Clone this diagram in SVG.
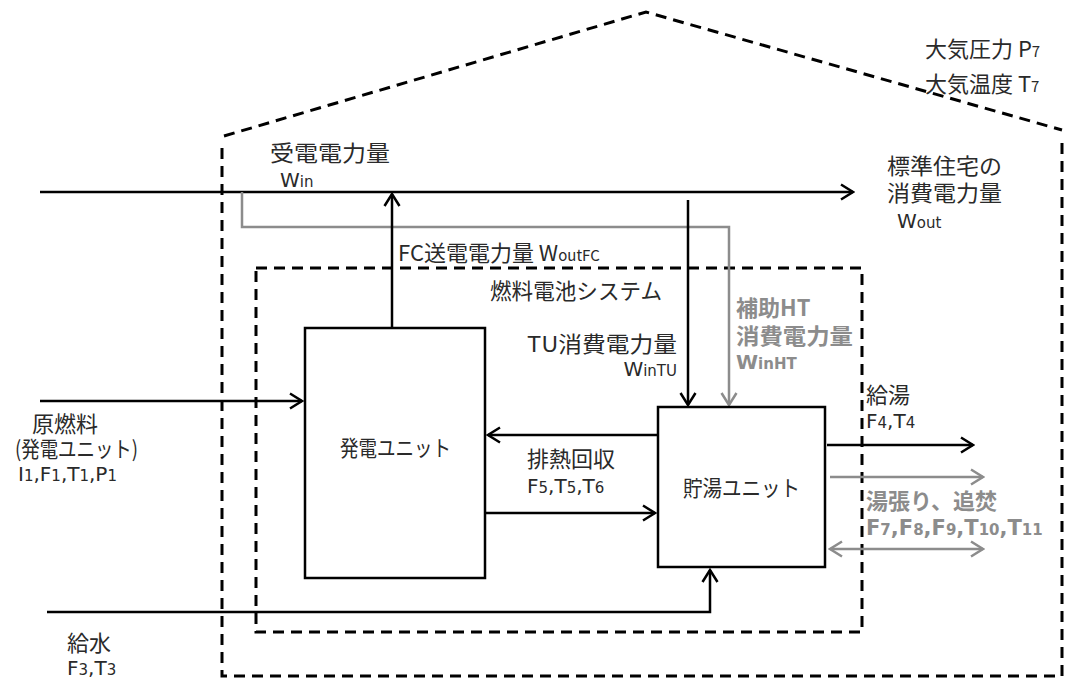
<svg xmlns="http://www.w3.org/2000/svg" width="1070" height="680" viewBox="0 0 1070 680">
<defs>
<marker id="ab" markerWidth="16" markerHeight="18" refX="14" refY="9" orient="auto" markerUnits="userSpaceOnUse"><path d="M2,1.5 L14,9 L2,16.5" fill="none" stroke="#000" stroke-width="2.5"/></marker>
<marker id="ag" markerWidth="16" markerHeight="18" refX="14" refY="9" orient="auto" markerUnits="userSpaceOnUse"><path d="M2,1.5 L14,9 L2,16.5" fill="none" stroke="#8c8c8c" stroke-width="2.5"/></marker>
<marker id="agr" markerWidth="16" markerHeight="18" refX="2" refY="9" orient="auto" markerUnits="userSpaceOnUse"><path d="M14,1.5 L2,9 L14,16.5" fill="none" stroke="#8c8c8c" stroke-width="2.5"/></marker>
</defs>
<style>
.dash{fill:none;stroke:#000;stroke-width:3;stroke-dasharray:11,7}
.box{fill:#fff;stroke:#000;stroke-width:2.5}
.ln{fill:none;stroke:#000;stroke-width:2.5}
.gl{fill:none;stroke:#8c8c8c;stroke-width:2.5}
text{font-family:"Noto Sans CJK JP","Liberation Sans",sans-serif;font-size:22px;fill:#2a2a2a}
.lt{font-family:"DejaVu Sans","Liberation Sans",sans-serif;font-size:20px}
.g{fill:#8c8c8c;font-weight:bold}
.s{font-size:15px}
</style>
<rect width="1070" height="680" fill="#fff"/>
<g id="house">
<path class="dash" d="M224,136 L646,12 L1062,130"/>
<path class="dash" d="M222,148 L222,676 L1062,676 L1062,138"/>
</g>
<g id="fcsystem">
<path class="dash" d="M256,268 L862,268 L862,632 L256,632 Z"/>
<text x="490" y="299" textLength="172" lengthAdjust="spacingAndGlyphs">燃料電池システム</text>
</g>
<g id="connectors">
<line class="ln" x1="40" y1="192" x2="853" y2="192" marker-end="url(#ab)"/>
<path class="gl" d="M242,192 L242,227 L729,227 L729,405" marker-end="url(#ag)"/>
<line class="ln" x1="392" y1="327" x2="392" y2="194" marker-end="url(#ab)"/>
<line class="ln" x1="688" y1="200" x2="688" y2="405" marker-end="url(#ab)"/>
<line class="ln" x1="40" y1="401" x2="302" y2="401" marker-end="url(#ab)"/>
<line class="ln" x1="657" y1="435" x2="488" y2="435" marker-end="url(#ab)"/>
<line class="ln" x1="486" y1="513" x2="655" y2="513" marker-end="url(#ab)"/>
<path class="ln" d="M47,612 L710,612 L710,570" marker-end="url(#ab)"/>
<line class="ln" x1="827" y1="445" x2="973" y2="445" marker-end="url(#ab)"/>
<line class="gl" x1="830" y1="477" x2="983" y2="477" marker-end="url(#ag)"/>
<line class="gl" x1="830" y1="549" x2="983" y2="549" marker-start="url(#agr)" marker-end="url(#ag)"/>
</g>
<g id="hatsuden">
<rect class="box" x="305" y="328" width="180" height="250"/>
<text x="340" y="456" textLength="111" lengthAdjust="spacingAndGlyphs">発電ユニット</text>
</g>
<g id="chotou">
<rect class="box" x="658" y="407" width="167" height="160"/>
<text x="683" y="496" textLength="117" lengthAdjust="spacingAndGlyphs">貯湯ユニット</text>
</g>
<g id="labels">
<text x="925" y="57">大気圧力 P<tspan class="s">7</tspan></text>
<text x="925" y="92">大気温度 T<tspan class="s">7</tspan></text>
<text x="270" y="161" textLength="120" lengthAdjust="spacingAndGlyphs">受電電力量</text>
<text class="lt" x="280" y="187">W<tspan class="s">in</tspan></text>
<text x="887" y="174" textLength="115" lengthAdjust="spacingAndGlyphs">標準住宅の</text>
<text x="887" y="201" textLength="115" lengthAdjust="spacingAndGlyphs">消費電力量</text>
<text class="lt" x="897" y="228">W<tspan class="s">out</tspan></text>
<text x="398" y="261">FC送電電力量 W<tspan class="s">outFC</tspan></text>
<text x="527" y="352" textLength="150" lengthAdjust="spacingAndGlyphs">TU消費電力量</text>
<text class="lt" x="677" y="376" text-anchor="end">W<tspan class="s">inTU</tspan></text>
<text class="g" x="736" y="316">補助HT</text>
<text class="g" x="736" y="344" textLength="117" lengthAdjust="spacingAndGlyphs">消費電力量</text>
<text class="lt g" x="736" y="369">W<tspan class="s">inHT</tspan></text>
<text x="866" y="403">給湯</text>
<text class="lt" x="866" y="428">F<tspan class="s">4</tspan>,T<tspan class="s">4</tspan></text>
<text x="32" y="432">原燃料</text>
<text x="15" y="457" textLength="123" lengthAdjust="spacingAndGlyphs">(発電ユニット)</text>
<text class="lt" x="18" y="481">I<tspan class="s">1</tspan>,F<tspan class="s">1</tspan>,T<tspan class="s">1</tspan>,P<tspan class="s">1</tspan></text>
<text x="527" y="467">排熱回収</text>
<text class="lt" x="527" y="493">F<tspan class="s">5</tspan>,T<tspan class="s">5</tspan>,T<tspan class="s">6</tspan></text>
<text class="g" x="866" y="509">湯張り、追焚</text>
<text class="lt g" x="866" y="535" style="font-size:21px">F<tspan class="s">7</tspan>,F<tspan class="s">8</tspan>,F<tspan class="s">9</tspan>,T<tspan class="s">10</tspan>,T<tspan class="s">11</tspan></text>
<text x="67" y="651">給水</text>
<text class="lt" x="67" y="675">F<tspan class="s">3</tspan>,T<tspan class="s">3</tspan></text>
</g>
</svg>
